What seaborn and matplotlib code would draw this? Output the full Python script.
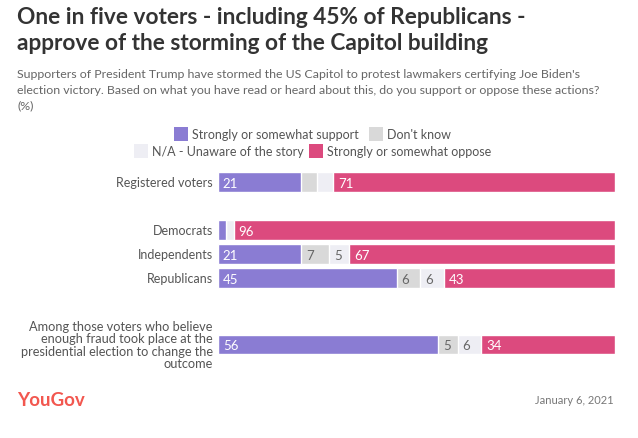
import numpy as np
import pandas as pd
import matplotlib
matplotlib.use("Agg")
import matplotlib.pyplot as plt
from matplotlib.patches import Rectangle
import seaborn as sns

groups = ["Registered voters", "Democrats", "Independents", "Republicans",
          "Among those voters who believe\nenough fraud took place at the\npresidential election to change the\noutcome"]
positions = [0, 2, 3, 4, 6.77]
support = [21, 2, 21, 45, 56]
dont_know = [4, 0, 7, 6, 5]
unaware = [4, 2, 5, 6, 6]
oppose = [71, 96, 67, 43, 34]

series = ["Strongly or somewhat support", "Don't know",
          "N/A - Unaware of the story", "Strongly or somewhat oppose"]
colors = ["#8a7cd3", "#d9d9d9", "#eeeef4", "#dc4a7e"]
label_colors = ["white", "#666666", "#666666", "white"]

sns.set_style("white")
plt.rcParams["font.family"] = ["Lato", "DejaVu Sans"]

df = pd.DataFrame({"group": groups, "pos": positions, "support": support,
                   "dont_know": dont_know, "unaware": unaware, "oppose": oppose})
cols = ["support", "dont_know", "unaware", "oppose"]
total = df[cols].sum(axis=1)
shares = df[cols].div(total, axis=0) * 100
cum = shares.cumsum(axis=1)
for c in cols:
    df["cum_" + c] = cum[c]
    df["left_" + c] = cum[c] - shares[c]

fig = plt.figure(figsize=(6.38, 4.39), dpi=100)
ax = fig.add_axes([218 / 638, 1 - 370 / 439, (615 - 218) / 638, 210 / 439])

# draw from the widest cumulative bar down so each segment shows
for c, col in reversed(list(zip(cols, colors))):
    sns.barplot(data=df, x="cum_" + c, y="pos", orient="y", native_scale=True,
                color=col, saturation=1, width=0.83, errorbar=None, ax=ax)

for i, row in df.iterrows():
    for c, lc in zip(cols, label_colors):
        v = row[c]
        if v >= 5:
            ax.text(row["left_" + c] + 1.2, row["pos"] + 0.03, str(int(v)),
                    ha="left", va="center", color=lc, fontsize=9.5)
    ax.text(-1.3, row["pos"], row["group"], ha="right", va="center",
            color="#555555", fontsize=9.2 if i == 4 else 9, linespacing=1.05)

ax.set_xlim(0, 100)
ax.set_ylim(187 / 24, -23 / 24)
ax.axis("off")

fig.text(17 / 638, 1 - 18 / 439, "One in five voters - including 45% of Republicans -",
         fontsize=16.3, fontweight="bold", color="#333333", va="center")
fig.text(17 / 638, 1 - 44 / 439, "approve of the storming of the Capitol building",
         fontsize=16.3, fontweight="bold", color="#333333", va="center")
fig.text(17 / 638, 1 - 75 / 439,
         "Supporters of President Trump have stormed the US Capitol to protest lawmakers certifying Joe Biden's",
         fontsize=8.9, color="#666666", va="center")
fig.text(17 / 638, 1 - 91 / 439,
         "election victory. Based on what you have read or heard about this, do you support or oppose these actions?",
         fontsize=8.9, color="#666666", va="center")
fig.text(17 / 638, 1 - 106 / 439, "(%)", fontsize=8.9, color="#666666", va="center")

legend_items = [(174, 135, 0), (369, 135, 1), (134, 152, 2), (309, 152, 3)]
for x0, y0, k in legend_items:
    fig.patches.append(Rectangle((x0 / 638, 1 - (y0 + 7) / 439), 14 / 638, 14 / 439,
                                 transform=fig.transFigure, color=colors[k], lw=0))
    fig.text((x0 + 18) / 638, 1 - y0 / 439, series[k], fontsize=9,
             color="#555555", va="center")

fig.text(17 / 638, 1 - 401 / 439, "YouGov", fontsize=13.5, fontweight="bold",
         color="#f2574f", va="center")
fig.text(614 / 638, 1 - 401 / 439, "January 6, 2021", fontsize=8,
         color="#777777", va="center", ha="right")

fig.savefig("out.png", dpi=100, facecolor="white")
